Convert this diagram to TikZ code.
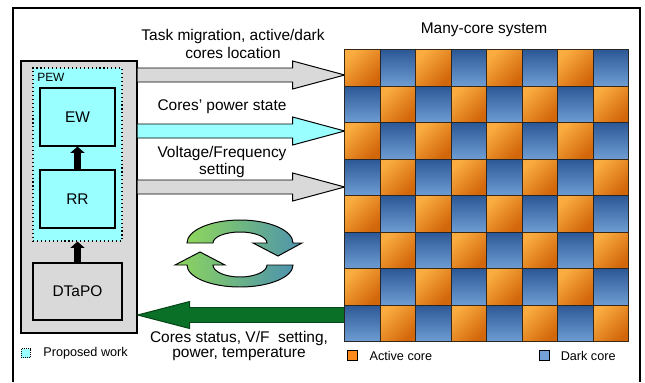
\documentclass[tikz,border=0pt]{standalone}
\usepackage{fontspec}
\setmainfont{Liberation Sans}
\definecolor{mcgrey}{HTML}{D9D9D9}
\definecolor{mccyan}{HTML}{99FFFF}
\definecolor{mcgreen}{HTML}{0A7027}
\definecolor{mcorlight}{HTML}{FAAC40}
\definecolor{mcordark}{HTML}{D2660A}
\definecolor{mcbltop}{HTML}{2D5896}
\definecolor{mcblbot}{HTML}{6E9DD3}
\definecolor{mccyc1}{HTML}{8ED65B}
\definecolor{mccyc2}{HTML}{4D93AE}
\definecolor{mcorange}{HTML}{FF8A1C}
\definecolor{mcblue}{HTML}{73A0D6}
\usepackage{tikz}
\usetikzlibrary{arrows.meta, positioning, calc}

\begin{document}
\begin{tikzpicture}[x=0.025cm, y=-0.025cm,
  every node/.style={font=\fontsize{11}{12.7}\selectfont},
  box/.style={draw, line width=0.8pt, inner sep=0pt, align=center},
  fat/.style={draw, line width=0.7pt, line join=miter},
  upar/.style={line width=4.6pt, -{Triangle[width=10pt, length=4.5pt]}},
  activecell/.style={draw=black!70!brown, line width=0.6pt, top color=mcorlight,
                     bottom color=mcordark, shading angle=45},
  darkcell/.style={draw=black!85, line width=0.6pt, top color=mcbltop, bottom color=mcblbot},
  cyc/.style={draw, line width=0.7pt, left color=mccyc1, right color=mccyc2},
  legend/.style={font=\fontsize{9}{10}\selectfont, inner sep=0pt}
]
  \useasboundingbox (0,0) rectangle (645,382);
  \draw[line width=0.8pt] (13,382) -- (13,8) -- (640,8) -- (640,382);

  % controller side
  \node[box, fill=mcgrey, minimum width=2.9cm, minimum height=6.8cm] (ctrl) at (79,197) {};
  \node[box, fill=mccyan, dotted, minimum width=2.225cm, minimum height=4.325cm] (pew) at (77.5,154.5) {};
  \node[font=\fontsize{8.5}{10}\selectfont, anchor=west, inner sep=0pt] (pewlbl) at (37,77) {PEW};
  \node[box, fill=mccyan, minimum width=1.875cm, minimum height=1.45cm] (ew) at (77.5,117) {EW};
  \node[box, fill=mccyan, minimum width=1.875cm, minimum height=1.45cm] (rr) at (77.5,199) {RR};
  \node[box, fill=mcgrey, minimum width=2.225cm, minimum height=1.425cm] (dtapo) at (77.5,291.5) {DTaPO};
  \draw[upar] (rr.north) -- (ew.south);
  \draw[upar] (dtapo.north) -- (pew.south);

  % many-core grid
  \node[inner sep=0pt, minimum width=7.1cm, minimum height=7.3cm] (grid) at (487,196) {};
  \node (mctitle) at (484,30) {Many-core system};

  % fat arrows
  \foreach \yy/\col in {75/mcgrey, 131/mccyan, 187/mcgrey}{
    \path (ctrl.east |- 0,\yy) coordinate (s) (grid.west |- 0,\yy) coordinate (t);
    \draw[fat, fill=\col] ($(s)+(0,-7)$) -- ($(t)+(-52,-7)$) -- ++(0,-7) -- (t)
      -- ($(t)+(-52,14)$) -- ++(0,-7) -- ($(s)+(0,7)$);
  }
  \path (grid.west |- 0,315) coordinate (gs) (ctrl.east |- 0,315) coordinate (gt);
  \draw[fat, fill=mcgreen, draw=mcgreen!60!black] ($(gs)+(0,-7.5)$) -- ($(gt)+(52,-7.5)$)
    -- ++(0,-6) -- (gt) -- ($(gt)+(52,13.5)$) -- ++(0,-6) -- ($(gs)+(0,7.5)$);

  \node[align=center] (lbltask) at (233,44) {Task migration, active/dark\\cores location};
  \node (lblpower) at (222,107) {Cores' power state};
  \node[align=center] (lblvf) at (222,162) {Voltage/Frequency\\setting};
  \node[align=center, font=\fontsize{11}{11.3}\selectfont] (lblstatus) at (239,346)
    {Cores status, V/F~ setting,\\power, temperature};

  \foreach \r in {0,...,7}{
    \foreach \c in {0,...,7}{
      \pgfmathtruncatemacro{\odd}{mod(\r+\c,2)}
      \ifodd\odd
        \draw[darkcell] ($(grid.north west)+(35.5*\c,36.5*\r)$) rectangle +(35.5,36.5);
      \else
        \draw[activecell] ($(grid.north west)+(35.5*\c,36.5*\r)$) rectangle +(35.5,36.5);
      \fi
    }
  }

  % cycle arrows
  \draw[cyc] (187,243) arc[start angle=180, end angle=360, x radius=53, y radius=23]
    -- (302,243) -- (278,256) -- (253,243) -- (267,243)
    arc[start angle=360, end angle=180, x radius=27, y radius=11] -- cycle;
  \draw[cyc] (293,265) arc[start angle=0, end angle=180, x radius=53, y radius=22]
    -- (175,265) -- (200,252) -- (225,265) -- (213,265)
    arc[start angle=180, end angle=0, x radius=27, y radius=12] -- cycle;

  % legend
  \node[draw, densely dotted, fill=mccyan, minimum size=0.225cm, inner sep=0pt] (pwkey) at (25.5,353) {};
  \node[legend, right=0.32cm of pwkey] (pwtext) {Proposed work};
  \node[draw, fill=mcorange, minimum size=0.25cm, inner sep=0pt] (actkey) at (352,355.5) {};
  \node[legend, right=0.3cm of actkey] (acttext) {Active core};
  \node[draw, fill=mcblue, minimum size=0.25cm, inner sep=0pt] (darkkey) at (544,355.5) {};
  \node[legend, right=0.28cm of darkkey] (darktext) {Dark core};
\end{tikzpicture}
\end{document}
